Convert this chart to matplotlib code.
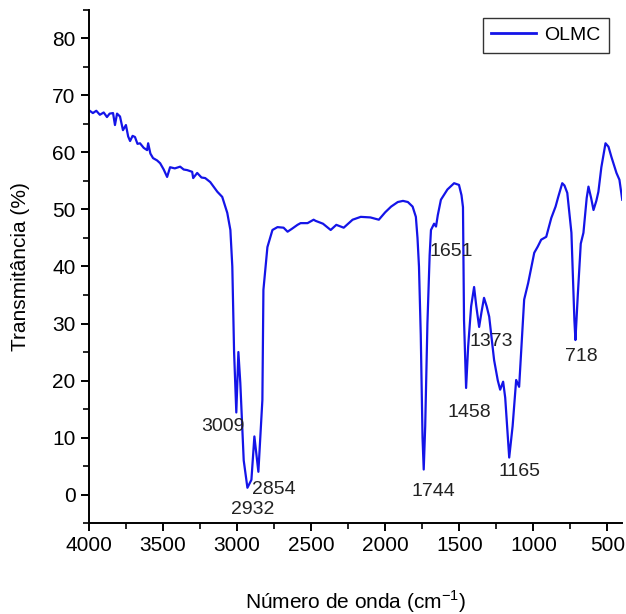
import matplotlib
matplotlib.use("Agg")
import matplotlib.pyplot as plt
from matplotlib.ticker import MultipleLocator

plt.rcParams["font.family"] = ["Liberation Sans Narrow", "Liberation Sans", "DejaVu Sans"]

# FTIR spectrum (wavenumber, transmittance)
wavenumber = [
    4000, 3973, 3950, 3926, 3900, 3878, 3860, 3837, 3824, 3810, 3790, 3770, 3750,
    3735, 3722, 3705, 3689, 3672, 3655, 3630, 3607, 3600, 3585, 3567, 3540, 3519,
    3495, 3472, 3452, 3420, 3384, 3360, 3337, 3303, 3296, 3269, 3240, 3215, 3181,
    3133, 3100, 3066, 3045, 3032, 3020, 3005, 2991, 2978, 2955, 2930, 2903, 2883,
    2856, 2829, 2822, 2795, 2761, 2727, 2686, 2659, 2630, 2592, 2571, 2524, 2483,
    2470, 2420, 2368, 2330, 2280, 2220, 2165, 2100, 2043, 2000, 1960, 1915, 1880,
    1847, 1815, 1793, 1782, 1772, 1760, 1748, 1740, 1730, 1715, 1700, 1691, 1670,
    1657, 1645, 1624, 1580, 1535, 1502, 1485, 1475, 1468, 1454, 1440, 1420, 1400,
    1385, 1366, 1350, 1333, 1315, 1298, 1265, 1240, 1224, 1204, 1190, 1163, 1140,
    1116, 1096, 1080, 1062, 1035, 994, 970, 947, 913, 879, 850, 832, 805, 790, 771,
    743, 723, 716, 700, 680, 662, 640, 628, 610, 594, 575, 561, 541, 513, 493, 473,
    439, 419, 400,
]
transmittance = [
    67.4, 66.9, 67.3, 66.6, 67.0, 66.2, 66.8, 66.9, 64.8, 66.8, 66.3, 63.9, 64.8,
    62.8, 62.0, 62.9, 62.7, 61.5, 61.6, 60.8, 60.4, 61.6, 59.8, 59.0, 58.6, 58.1,
    57.0, 55.7, 57.4, 57.2, 57.5, 57.0, 56.9, 56.6, 55.5, 56.4, 55.6, 55.5, 54.8,
    53.1, 52.2, 49.4, 46.4, 40.0, 25.0, 14.4, 25.0, 19.6, 6.0, 1.2, 2.6, 10.2,
    4.0, 16.6, 35.9, 43.4, 46.4, 46.9, 46.8, 46.1, 46.6, 47.3, 47.6, 47.6, 48.2,
    48.0, 47.5, 46.4, 47.3, 46.8, 48.2, 48.7, 48.6, 48.2, 49.5, 50.5, 51.3, 51.5,
    51.3, 50.5, 48.7, 45.0, 40.0, 28.0, 10.0, 4.4, 12.0, 30.0, 42.0, 46.4, 47.5,
    47.0, 49.0, 51.7, 53.5, 54.6, 54.3, 52.5, 50.4, 30.6, 18.7, 26.0, 33.0, 36.4,
    33.0, 29.4, 32.0, 34.5, 33.0, 31.2, 23.6, 20.0, 18.4, 19.8, 17.0, 6.5, 12.0,
    20.1, 18.9, 26.0, 34.2, 37.1, 42.4, 43.5, 44.7, 45.2, 48.5, 50.5, 52.2, 54.6,
    54.2, 52.9, 45.9, 30.6, 27.1, 35.0, 44.0, 45.9, 52.0, 54.0, 52.0, 49.9, 51.5,
    53.1, 57.4, 61.6, 61.0, 59.2, 56.4, 55.2, 51.7,
]

peak_labels = ["3009", "2932", "2854", "1744", "1651", "1458", "1373", "1165", "718"]
label_x = [3093, 2896, 2754, 1678, 1556, 1434, 1285, 1096, 676]
label_y = [11.9, -2.6, 0.9, 0.5, 42.6, 14.4, 26.8, 4.0, 24.2]

fig = plt.figure(figsize=(6.26, 6.14), dpi=100)
ax = fig.add_axes([0.142, 0.148, 0.852, 0.836])

ax.plot(wavenumber, transmittance, color="#1414e8", lw=1.6, label="OLMC")

for txt, x, y in zip(peak_labels, label_x, label_y):
    ax.text(x, y, txt, ha="center", va="center", fontsize=14, color="#222222")

ax.set_xlim(4000, 400)
ax.set_ylim(-5, 85)
ax.xaxis.set_major_locator(MultipleLocator(500))
ax.xaxis.set_minor_locator(MultipleLocator(250))
ax.yaxis.set_major_locator(MultipleLocator(10))
ax.yaxis.set_minor_locator(MultipleLocator(5))

for side in ["top", "right"]:
    ax.spines[side].set_visible(False)
for side in ["left", "bottom"]:
    ax.spines[side].set_linewidth(1.4)

ax.tick_params(which="major", direction="out", length=6, width=1.4, labelsize=15)
ax.tick_params(which="minor", direction="out", length=4, width=1.2)

ax.set_xlabel("Número de onda (cm$^{\\mathregular{-1}}$)", fontsize=15, labelpad=24)
ax.set_ylabel("Transmitância (%)", fontsize=15, labelpad=16)

leg = ax.legend(loc="upper right", fontsize=14, frameon=True, fancybox=False,
                edgecolor="black", handlelength=2.3, handletextpad=0.4,
                borderpad=0.45, borderaxespad=0.0, bbox_to_anchor=(0.975, 0.985))
leg.get_frame().set_linewidth(1.0)
leg.get_lines()[0].set_linewidth(2.0)

fig.savefig("out.png", dpi=100)
